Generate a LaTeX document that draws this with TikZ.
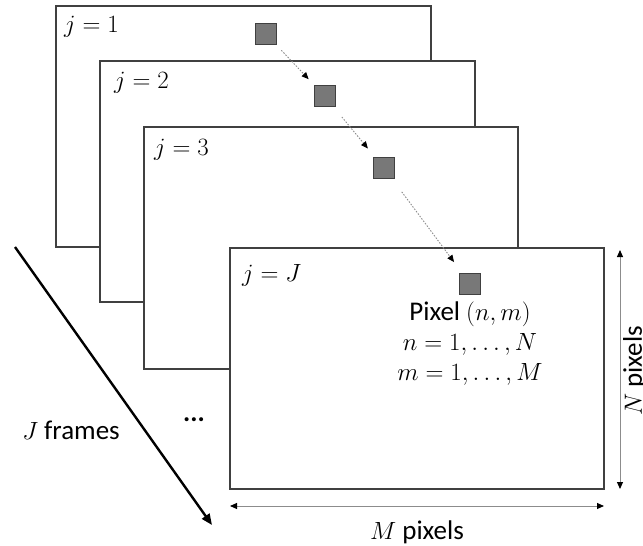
\documentclass[tikz,border=0pt]{standalone}
\usepackage{fontspec}
\setmainfont{Carlito}
\usetikzlibrary{arrows.meta,positioning}
\definecolor{F1}{RGB}{64,64,64}
\definecolor{P1}{RGB}{120,120,120}
\definecolor{D1}{RGB}{140,140,140}
\tikzset{
  frame/.style={draw=F1, line width=1.2pt, fill=white},
  pix/.style={draw=F1, line width=1pt, fill=P1, minimum size=21pt, inner sep=0pt},
  hop/.style={D1, line width=0.9pt, dash pattern=on 1.5pt off 1.5pt, -{Triangle[length=7pt,width=6pt,black]}},
  dimen/.style={D1, line width=1pt, {Triangle[length=7pt,width=6pt,black]}-{Triangle[length=7pt,width=6pt,black]}},
  lbl/.style={font=\fontsize{27}{30}\selectfont, inner sep=0pt}
}

\begin{document}
\begin{tikzpicture}[x=1pt, y=-1pt]
    \useasboundingbox (0,0) rectangle (643,546);
    % stack of frames, back to front
    \draw[frame] (56, 6) rectangle (431, 247);
    \draw[frame] (100, 61) rectangle (475, 302);
    \draw[frame] (144, 127) rectangle (518, 369);
    \draw[frame] (230, 248) rectangle (604, 489);
    \node[lbl, anchor=west] (j1) at (64, 27) {$j = 1$};
    \node[lbl, anchor=west] (j2) at (114, 83) {$j = 2$};
    \node[lbl, anchor=west] (j3) at (154, 150) {$j = 3$};
    \node[lbl, anchor=west] (jJ) at (242, 275) {$j = J$};
    % the same pixel in every frame
    \node[pix] (p1) at (265.5, 33.5) {};
    \node[pix] (p2) at (324.5, 96) {};
    \node[pix] (p3) at (384, 168) {};
    \node[pix] (pJ) at (470, 283.5) {};
    \draw[hop, shorten <=8pt, shorten >=8pt] (p1) -- (p2);
    \draw[hop, shorten <=13pt, shorten >=11pt] (p2) -- (p3);
    \draw[hop, shorten <=16pt, shorten >=13pt] (p3) -- (pJ);
    \node[lbl, align=center, below=7pt of pJ] (pixinfo) {Pixel $(n,m)$\\ $n = 1,\ldots,N$\\ $m = 1,\ldots,M$};
    % frame count and image size
    \coordinate (t0) at (15, 247);
    \coordinate (t1) at (212, 525);
    \draw[line width=2.4pt, -{Triangle[length=11pt,width=9pt]}] (t0) -- (t1);
    \node[lbl] (frames) at (71, 430) {$J$ frames};
    \node[lbl] (dots) at (194, 420) {\textbf{...}};
    \coordinate (m0) at (230, 506);
    \coordinate (m1) at (604, 506);
    \draw[dimen] (m0) -- (m1);
    \node[lbl] (mpix) at (417, 532) {$M$ pixels};
    \coordinate (n0) at (620, 250);
    \coordinate (n1) at (620, 489);
    \draw[dimen] (n0) -- (n1);
    \node[lbl, rotate=90, anchor=north] (npix) at (623, 371) {$N$ pixels};
\end{tikzpicture}
\end{document}
